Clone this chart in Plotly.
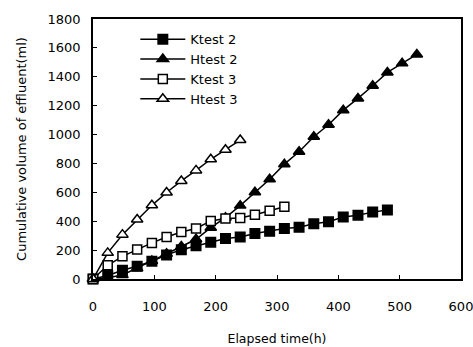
import plotly.graph_objects as go

# Elapsed time (h), sampled every 24 h
x_ktest2 = [0, 24, 48, 72, 96, 120, 144, 168, 192, 216, 240, 264, 288, 312, 336, 360, 384, 408, 432, 456, 480]
y_ktest2 = [0, 24, 61, 88, 123, 167, 203, 231, 255, 280, 291, 315, 330, 350, 358, 382, 396, 429, 442, 463, 478]

x_htest2 = [0, 24, 48, 72, 96, 120, 144, 168, 192, 216, 240, 264, 288, 312, 336, 360, 384, 408, 432, 456, 480, 504, 528]
y_htest2 = [0, 8, 28, 75, 125, 175, 225, 275, 355, 425, 508, 600, 690, 795, 881, 985, 1068, 1169, 1250, 1338, 1430, 1493, 1555]

x_ktest3 = [0, 24, 48, 72, 96, 120, 144, 168, 192, 216, 240, 264, 288, 312]
y_ktest3 = [0, 95, 157, 205, 250, 291, 325, 350, 402, 418, 422, 445, 472, 500]

x_htest3 = [0, 24, 48, 72, 96, 120, 144, 168, 192, 216, 240]
y_htest3 = [0, 181, 307, 412, 510, 599, 679, 752, 829, 895, 962]

x_ticks = [0, 100, 200, 300, 400, 500, 600]
y_ticks = [0, 200, 400, 600, 800, 1000, 1200, 1400, 1600, 1800]

FONT = "DejaVu Sans"

fig = go.Figure()

def add(xs, ys, name, symbol, filled, size):
    fig.add_trace(go.Scatter(
        x=xs, y=ys, name=name, mode="lines+markers",
        line=dict(color="black", width=1.5),
        marker=dict(symbol=symbol, size=size,
                    color="black" if filled else "white",
                    line=dict(color="black", width=1.5)),
        cliponaxis=False,
    ))

add(x_ktest2, y_ktest2, "Ktest 2", "square", True, 9.5)
add(x_htest2, y_htest2, "Htest 2", "triangle-up", True, 10)
add(x_ktest3, y_ktest3, "Ktest 3", "square", False, 9)
add(x_htest3, y_htest3, "Htest 3", "triangle-up", False, 10)

axis_common = dict(
    showline=True, linecolor="black", linewidth=1.5, mirror=True,
    ticks="inside", ticklen=4, tickwidth=1, tickcolor="black",
    showgrid=False, zeroline=False, automargin=False,
    ticklabeloverflow="allow",
    tickfont=dict(family=FONT, size=13, color="black"),
)

fig.update_xaxes(range=[0, 600], tickvals=x_ticks, ticktext=[str(v) for v in x_ticks],
                 ticklabelstandoff=15,
                 title=dict(text="Elapsed time(h)", font=dict(family=FONT, size=12.5, color="black"), standoff=21),
                 **axis_common)
fig.update_yaxes(range=[0, 1800], tickvals=y_ticks, ticktext=[str(v) for v in y_ticks],
                 ticklabelstandoff=8,
                 title=dict(text="Cumulative volume of effluent(ml)", font=dict(family=FONT, size=13, color="black"), standoff=18),
                 **axis_common)

fig.update_layout(
    width=473, height=347,
    margin=dict(l=93, r=12, t=19, b=68),
    paper_bgcolor="white", plot_bgcolor="white",
    font=dict(family=FONT, color="black"),
    legend=dict(x=0.115, y=0.98, xanchor="left", yanchor="top",
                bgcolor="rgba(0,0,0,0)", borderwidth=0,
                font=dict(family=FONT, size=13, color="black"),
                itemwidth=45, tracegroupgap=0),
)

fig.write_html("out.html")
